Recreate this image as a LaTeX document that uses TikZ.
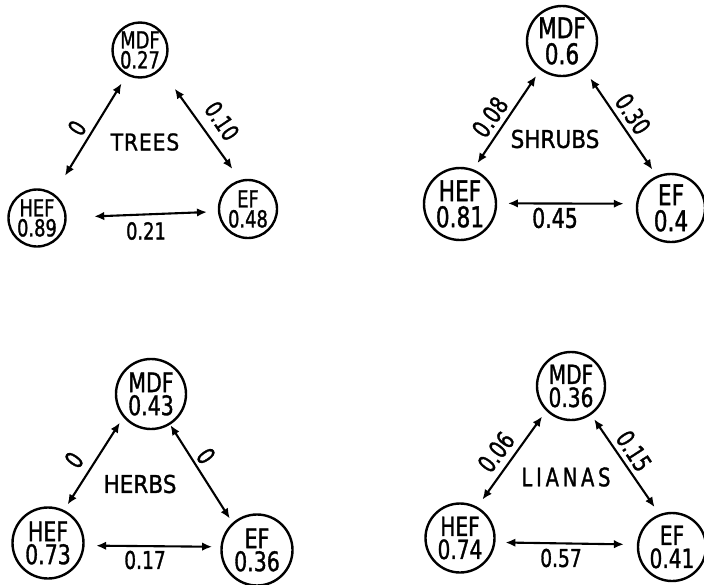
\documentclass[tikz,border=0pt]{standalone}
\usepackage{fontspec}
\setmainfont{DejaVu Sans}[FakeBold=1.2]
\newfontfamily\narfont{DejaVu Sans}[FakeStretch=0.76, FakeBold=1.2]
\newfontfamily\semifont{DejaVu Sans}[FakeStretch=0.88, FakeBold=1.2]
\usetikzlibrary{arrows.meta}
\begin{document}
\begin{tikzpicture}[x=1pt, y=-1pt,
  site/.style={circle, draw, line width=2.4pt, inner sep=0pt, minimum size=#1},
  ct/.style 2 args={font=\narfont\fontsize{#1}{#2}\selectfont, align=center, inner sep=0pt},
  link/.style={line width=2.1pt, {Latex[length=10pt,width=8.5pt]}-{Latex[length=10pt,width=8.5pt]}}
]
\useasboundingbox (0,0) rectangle (704,584);

% ---------- trees ----------
\node[site=55pt, label={[ct={23.5}{20}]center:{MDF\\0.27}}] (tM) at (140,50) {};
\node[site=57pt, label={[ct={23.5}{20}]center:{HEF\\0.89}}] (tH) at (37,218) {};
\node[site=58pt, label={[ct={23.5}{20}]center:{EF\\0.48}}]  (tE) at (248,209) {};
\draw[link, shorten <=9.5pt, shorten >=21pt]   (tM.242.7) -- (tH.55.7);
\draw[link, shorten <=23.5pt, shorten >=13.4pt] (tM.-43.4) -- (tE.105);
\draw[link, shorten <=27.5pt, shorten >=11pt]   (tH.1)     -- (tE.185.7);
\node[ct={24}{24}, rotate=58]  (tl1) at (77,128)  {0};
\node[ct={24}{24}, rotate=-56] (tl2) at (222,121) {0.10};
\node[ct={23.5}{23.5}]         (tl3) at (146,231) {0.21};
\node[font=\semifont\fontsize{23}{23}\selectfont\addfontfeature{LetterSpace=4}, inner sep=0pt]
     (tT) at (145,142) {TREES};

% ---------- shrubs ----------
\node[site=70pt, label={[ct={28.5}{26}]center:{MDF\\0.6}}]  (sM) at (562,41) {};
\node[site=72pt, label={[ct={28.5}{26}]center:{HEF\\0.81}}] (sH) at (460,204) {};
\node[site=68pt, label={[ct={28.5}{26}]center:{EF\\0.4}}]   (sE) at (671,208) {};
\draw[link, shorten <=7.4pt,  shorten >=7.4pt]  (sM.233.3) -- (sH.69.8);
\draw[link, shorten <=10.8pt, shorten >=7.6pt]  (sM.-52.4) -- (sE.114);
\draw[link, shorten <=10.7pt, shorten >=12.3pt] (sH.1.6)   -- (sE.173.4);
\node[ct={25}{25}, rotate=55]  (sl1) at (490,117) {0.08};
\node[ct={25}{25}, rotate=-57] (sl2) at (633,114) {0.30};
\node[ct={27}{27}]             (sl3) at (555,218) {0.45};
\node[font=\semifont\fontsize{24.5}{25}\selectfont, inner sep=0pt] (sT) at (555,139) {SHRUBS};

% ---------- herbs ----------
\node[site=70pt, label={[ct={27}{23}]center:{MDF\\0.43}}] (hM) at (151,394) {};
\node[site=71pt, label={[ct={27}{23}]center:{HEF\\0.73}}] (hH) at (48,543) {};
\node[site=71pt, label={[ct={27}{23}]center:{EF\\0.36}}]  (hE) at (257,550) {};
\draw[link, shorten <=6.4pt,  shorten >=6.5pt] (hM.220)   -- (hH.64.7);
\draw[link, shorten <=0.5pt,  shorten >=5pt]   (hM.-58.9) -- (hE.132);
\draw[link, shorten <=11.6pt, shorten >=8.3pt] (hH.-4.5)  -- (hE.175.7);
\node[ct={25}{25}, rotate=55]  (hl1) at (74,460)  {0};
\node[ct={25}{25}, rotate=-55] (hl2) at (206,456) {0};
\node[ct={24.5}{24.5}]         (hl3) at (145,560) {0.17};
\node[font=\semifont\fontsize{24.5}{25}\selectfont, inner sep=0pt] (hT) at (140,484) {HERBS};

% ---------- lianas ----------
\node[site=68pt, label={[ct={26.5}{23}]center:{MDF\\0.36}}] (lM) at (571,386) {};
\node[site=69pt, label={[ct={26.5}{23}]center:{HEF\\0.74}}] (lH) at (460,538) {};
\node[site=68pt, label={[ct={26.5}{23}]center:{EF\\0.41}}]  (lE) at (672,547) {};
\draw[link, shorten <=6.8pt, shorten >=8.8pt] (lM.225.3) -- (lH.61.4);
\draw[link, shorten <=5.3pt, shorten >=8.5pt] (lM.-55.4) -- (lE.111);
\draw[link, shorten <=10pt,  shorten >=13pt]  (lH.-7.8)  -- (lE.176.3);
\node[ct={25}{25}, rotate=53]  (ll1) at (496,452) {0.06};
\node[ct={25}{25}, rotate=-57] (ll2) at (634,451) {0.15};
\node[ct={24.5}{24.5}]         (ll3) at (561,558) {0.57};
\node[font=\narfont\fontsize{25.5}{25}\selectfont\addfontfeature{LetterSpace=15}, inner sep=0pt]
     (lT) at (566,477) {LIANAS};
\end{tikzpicture}
\end{document}
